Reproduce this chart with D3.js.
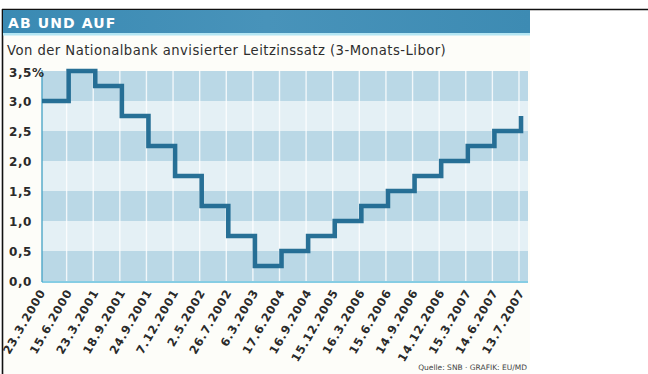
<!DOCTYPE html>
<html>
<head>
<meta charset="utf-8">
<script src="https://cdn.jsdelivr.net/npm/d3@7"></script>
<style>
  html, body { margin: 0; padding: 0; background: #ffffff; }
  svg { display: block; }
</style>
</head>
<body>
<svg id="chart" width="648" height="374"></svg>
<script>
// Stichtage der Zinsschritte
const dates = [
  "23.3.2000", "15.6.2000", "23.3.2001", "18.9.2001", "24.9.2001",
  "7.12.2001", "2.5.2002", "26.7.2002", "6.3.2003", "17.6.2004",
  "16.9.2004", "15.12.2005", "16.3.2006", "15.6.2006", "14.9.2006",
  "14.12.2006", "15.3.2007", "14.6.2007", "13.7.2007"
];
// Zielwert des 3-Monats-Libor in Prozent, gültig ab dem jeweiligen Stichtag
const rates = [
  3.0, 3.5, 3.25, 2.75, 2.25,
  1.75, 1.25, 0.75, 0.25, 0.5,
  0.75, 1.0, 1.25, 1.5, 1.75,
  2.0, 2.25, 2.5, 2.75
];
const yTicks = [0, 0.5, 1.0, 1.5, 2.0, 2.5, 3.0, 3.5];
const yTickLabels = ["0,0", "0,5", "1,0", "1,5", "2,0", "2,5", "3,0", "3,5%"];
const title = "AB UND AUF";
const subtitle = "Von der Nationalbank anvisierter Leitzinssatz (3-Monats-Libor)";
const source = "Quelle: SNB · GRAFIK: EU/MD";

const svg = d3.select("#chart");
const plot = { left: 42, right: 528, top: 70, bottom: 282 };

const x = d3.scalePoint().domain(dates).range([plot.left, 521]);
const y = d3.scaleLinear().domain([0, 3.5]).range([plot.bottom - 1, 71]);

// Rahmen und Hintergrund
svg.append("rect").attr("x", 3).attr("y", 10).attr("width", 527).attr("height", 364)
  .attr("fill", "#fdfdf9");
svg.append("line").attr("x1", 2).attr("x2", 648).attr("y1", 9.5).attr("y2", 9.5)
  .attr("stroke", "#111").attr("stroke-width", 1.6);
svg.append("line").attr("x1", 2.5).attr("x2", 2.5).attr("y1", 9).attr("y2", 374)
  .attr("stroke", "#111").attr("stroke-width", 1.6);

// Kopfband
const defs = svg.append("defs");
const hg = defs.append("linearGradient").attr("id", "head").attr("x1", 0).attr("x2", 1);
hg.append("stop").attr("offset", 0).attr("stop-color", "#3a8ab3");
hg.append("stop").attr("offset", 0.5).attr("stop-color", "#4893ba");
hg.append("stop").attr("offset", 1).attr("stop-color", "#3d8bb3");
svg.append("rect").attr("x", 3).attr("y", 10).attr("width", 527).attr("height", 24)
  .attr("fill", "url(#head)");
svg.append("rect").attr("x", 3).attr("y", 33).attr("width", 527).attr("height", 2.5)
  .attr("fill", "#b4e6f3");
svg.append("text").attr("x", 8).attr("y", 28)
  .attr("font-family", "DejaVu Sans, sans-serif").attr("font-weight", "bold")
  .attr("font-size", 14).attr("fill", "#ffffff").attr("letter-spacing", 1.1)
  .text(title);
svg.append("text").attr("x", 7).attr("y", 55)
  .attr("font-family", "DejaVu Sans, sans-serif").attr("font-size", 13.2)
  .attr("fill", "#2e2e2e").attr("letter-spacing", 0.45)
  .text(subtitle);

// Hintergrundbänder je 0,5 Prozentpunkte
const bands = d3.range(0, 3.5, 0.5);
svg.append("g").selectAll("rect").data(bands).join("rect")
  .attr("x", plot.left).attr("width", plot.right - plot.left)
  .attr("y", d => y(d + 0.5)).attr("height", d => y(d) - y(d + 0.5))
  .attr("fill", (d, i) => i % 2 === 0 ? "#bad8e6" : "#e4f0f5");

// senkrechte Rasterlinien an den Stichtagen
svg.append("g").selectAll("line").data(dates.slice(1)).join("line")
  .attr("x1", d => x(d) - 2).attr("x2", d => x(d) - 2)
  .attr("y1", plot.top).attr("y2", plot.bottom)
  .attr("stroke", "#ffffff").attr("stroke-opacity", 0.8).attr("stroke-width", 1.4);

// Achsenlinien
svg.append("line").attr("x1", plot.left).attr("x2", plot.right)
  .attr("y1", plot.bottom).attr("y2", plot.bottom)
  .attr("stroke", "#86cde4").attr("stroke-width", 2.2);
svg.append("line").attr("x1", plot.left).attr("x2", plot.left)
  .attr("y1", plot.top).attr("y2", plot.bottom)
  .attr("stroke", "#4ea6c8").attr("stroke-width", 1.4);

// Treppenlinie
const line = d3.line()
  .x((d, i) => x(dates[i]))
  .y(d => y(d))
  .curve(d3.curveStepAfter);
svg.append("path").datum(rates)
  .attr("d", line)
  .attr("fill", "none").attr("stroke", "#1c6890")
  .attr("stroke-width", 4.6).attr("stroke-linejoin", "miter").attr("stroke-linecap", "butt")
  .attr("opacity", 0.95);

// y-Achsenbeschriftung
svg.append("g").selectAll("text").data(yTicks).join("text")
  .attr("x", 9).attr("y", (d, i) => y(d) + (i === yTicks.length - 1 ? 6 : 5))
  .attr("font-family", "DejaVu Sans, sans-serif").attr("font-weight", "bold")
  .attr("font-size", 12).attr("fill", "#2a2a2a").attr("letter-spacing", 0.6)
  .text((d, i) => yTickLabels[i]);

// Datumsbeschriftung
svg.append("g").selectAll("text").data(dates).join("text")
  .attr("transform", d => `translate(${x(d) + 4},${292}) rotate(-60)`)
  .attr("text-anchor", "end")
  .attr("font-family", "DejaVu Sans, sans-serif").attr("font-weight", "bold")
  .attr("font-size", 11.5).attr("fill", "#2a2a2a").attr("letter-spacing", 0.9)
  .text(d => d);

// Quelle
svg.append("text").attr("x", 527).attr("y", 370).attr("text-anchor", "end")
  .attr("font-family", "DejaVu Sans, sans-serif").attr("font-size", 7.5)
  .attr("fill", "#444")
  .text(source);
</script>
</body>
</html>
